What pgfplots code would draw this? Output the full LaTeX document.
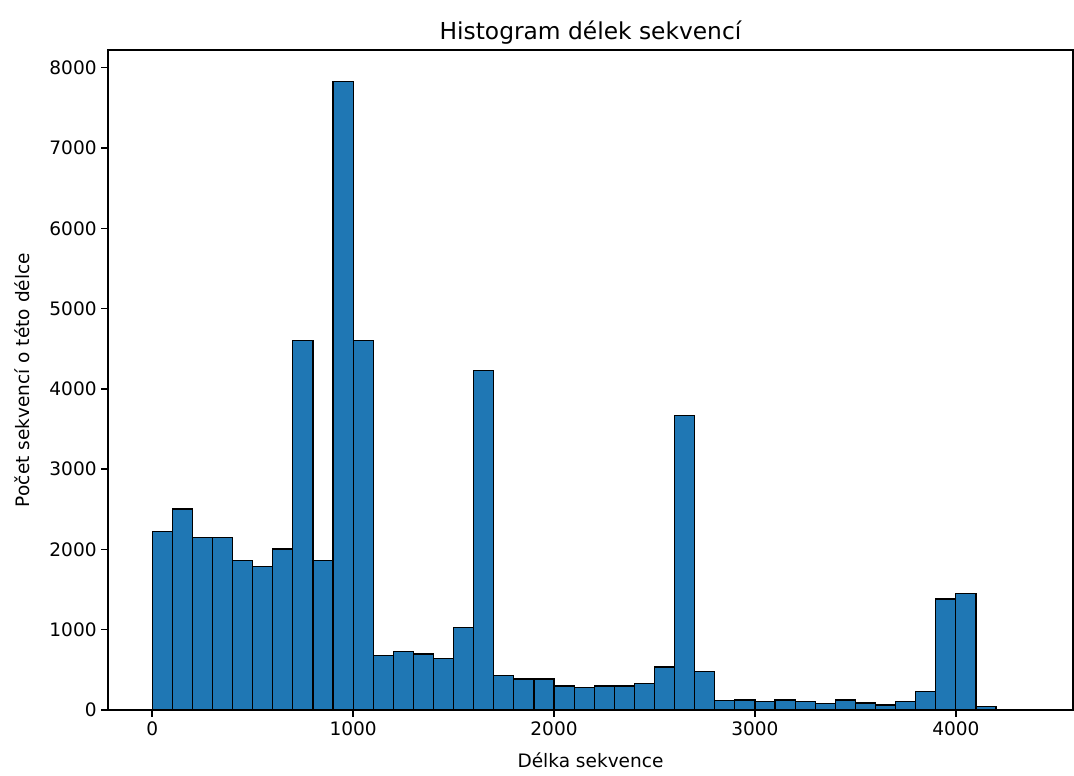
\documentclass[border=0pt]{standalone}
\usepackage{pgfplots}
\pgfplotsset{compat=1.18}
\usepackage{fontspec}
\setmainfont{DejaVu Sans}
\definecolor{mplblue}{HTML}{1F77B4}
\begin{document}
\begin{tikzpicture}
\begin{axis}[
  name=ax,
  scale only axis,
  width=723.75pt, height=495pt,
  xmin=-220, xmax=4583, ymin=0, ymax=8221,
  xtick={0,1000,2000,3000,4000},
  ytick={0,1000,2000,3000,4000,5000,6000,7000,8000},
  xtick pos=bottom, ytick pos=left,
  tick align=outside,
  major tick length=5pt,
  tick style={black, line width=1.1pt},
  axis line style={line width=1.1pt},
  every tick label/.append style={font=\fontsize{13.9}{16}\selectfont, text=black},
  /pgf/number format/assume math mode=true,
  /pgf/number format/set thousands separator={},
  title={Histogram délek sekvencí},
  title style={font=\fontsize{17.5}{20}\selectfont, at={(axis description cs:0.5,1)}, anchor=base, yshift=1.5pt, text=black},
  xlabel={Délka sekvence},
  xlabel style={font=\fontsize{13.9}{16}\selectfont, at={(axis description cs:0.5,0)}, anchor=base, yshift=-43.5pt, text=black},
  ylabel={Počet sekvencí o této délce},
  ylabel style={font=\fontsize{13.9}{16}\selectfont, at={(axis description cs:0,0.5)}, anchor=center, yshift=64.5pt, text=black},
]
\addplot[ybar interval, fill=mplblue, draw=black, line width=0.9pt] coordinates {
(0,2220) (100,2503) (200,2146) (300,2146) (400,1864) (500,1789) (600,2005) (700,4604)
(800,1864) (900,7830) (1000,4604) (1100,681) (1200,731) (1300,697) (1400,640) (1500,1025)
(1600,4230) (1700,432) (1800,386) (1900,386) (2000,299) (2100,282) (2200,299) (2300,299)
(2400,328) (2500,535) (2600,3665) (2700,481) (2800,120) (2900,125) (3000,104) (3100,125)
(3200,104) (3300,79) (3400,125) (3500,87) (3600,62) (3700,104) (3800,228) (3900,1382)
(4000,1449) (4100,46) (4200,4) (4300,2) (4400,0)
};
\end{axis}
\pgfresetboundingbox
\path[use as bounding box] ([xshift=-81pt,yshift=-49.5pt]ax.south west) rectangle ([xshift=0.75pt,yshift=37.5pt]ax.north east);
\end{tikzpicture}
\end{document}
